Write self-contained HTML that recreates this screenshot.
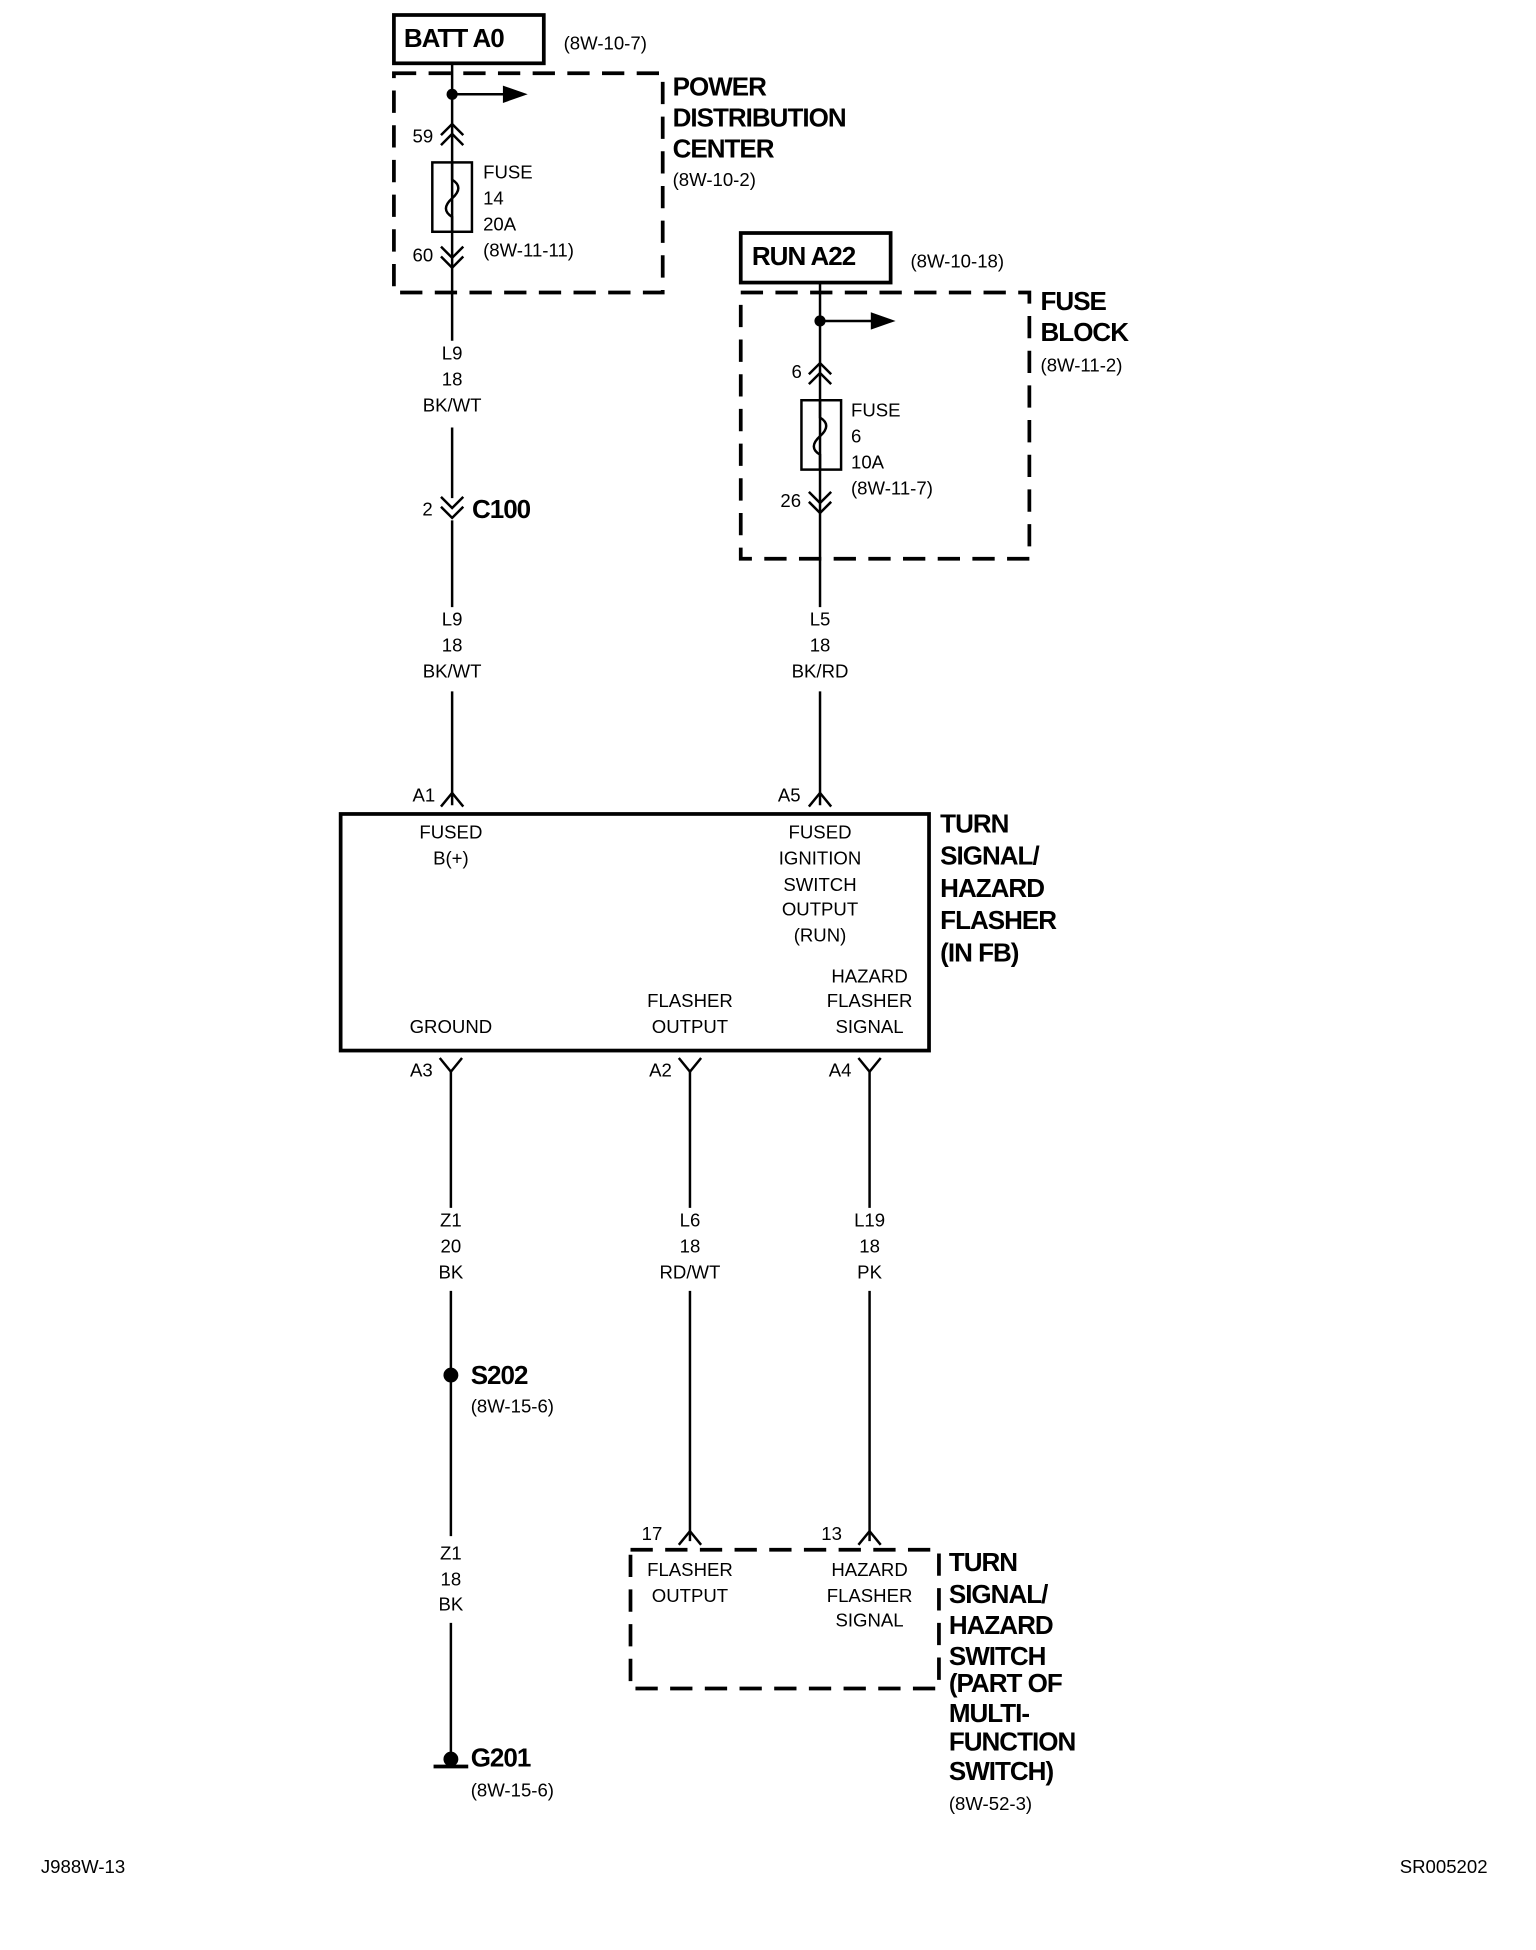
<!DOCTYPE html>
<html><head><meta charset="utf-8"><style>
html,body{margin:0;padding:0;background:#fff}
svg{display:block}
text{font-family:"Liberation Sans",sans-serif;fill:#000}
.s{font-size:15px}
.b{font-size:21px;font-weight:bold;letter-spacing:-0.8px}
.c{text-anchor:middle}
</style></head><body>
<svg width="1536" height="1950" viewBox="0 0 1240 1574" xmlns="http://www.w3.org/2000/svg">
<g stroke="#000" fill="none" stroke-width="2">
<!-- BATT -->
<rect x="318" y="12" width="121" height="39" stroke-width="3"/>
<rect x="318" y="59" width="217" height="177" stroke-width="3" stroke-dasharray="18,10"/>
<line x1="365" y1="51" x2="365" y2="275"/>
<line x1="365" y1="345" x2="365" y2="402"/>
<line x1="365" y1="420" x2="365" y2="490"/>
<line x1="365" y1="558" x2="365" y2="650"/>
<line x1="365" y1="76" x2="410" y2="76"/>
<polyline points="356,109 365,100 374,109"/><polyline points="356,117 365,108 374,117"/>
<rect x="349" y="131" width="32" height="56"/>
<path d="M365 131 V145 q10 6 0 15 q-10 9 0 15 V187" />
<polyline points="356,199 365,208 374,199"/><polyline points="356,207 365,216 374,207"/>
<polyline points="356,401 365,410 374,401"/><polyline points="356,409 365,418 374,409"/>
<!-- RUN -->
<rect x="598" y="188" width="121" height="40" stroke-width="3"/>
<rect x="598" y="236" width="233" height="215" stroke-width="3" stroke-dasharray="18,10"/>
<line x1="662" y1="228" x2="662" y2="490"/>
<line x1="662" y1="558" x2="662" y2="650"/>
<line x1="662" y1="259" x2="707" y2="259"/>
<polyline points="653,302 662,293 671,302"/><polyline points="653,310 662,301 671,310"/>
<rect x="647" y="323" width="32" height="56"/>
<path d="M662 323 V337 q10 6 0 15 q-10 9 0 15 V379" />
<polyline points="653,397 662,406 671,397"/><polyline points="653,405 662,414 671,405"/>
<!-- main box -->
<polyline points="356,651 365,640 374,651"/>
<polyline points="653,651 662,640 671,651"/>
<rect x="275" y="657" width="475" height="191" stroke-width="3"/>
<polyline points="355,854 364,865 373,854"/><line x1="364" y1="865" x2="364" y2="975"/>
<polyline points="548,854 557,865 566,854"/><line x1="557" y1="865" x2="557" y2="975"/>
<polyline points="693,854 702,865 711,854"/><line x1="702" y1="865" x2="702" y2="975"/>
<line x1="364" y1="1042" x2="364" y2="1240"/>
<line x1="364" y1="1310" x2="364" y2="1418"/>
<line x1="350" y1="1426" x2="378" y2="1426" stroke-width="3"/>
<line x1="557" y1="1042" x2="557" y2="1244"/>
<polyline points="548,1247 557,1236 566,1247"/>
<line x1="702" y1="1042" x2="702" y2="1244"/>
<polyline points="693,1247 702,1236 711,1247"/>
<rect x="509" y="1251" width="249" height="112" stroke-width="3" stroke-dasharray="18,10"/>
</g>
<g fill="#000">
<circle cx="365" cy="76" r="4.5"/><polygon points="406,69 426,76 406,83"/>
<circle cx="662" cy="259" r="4.5"/><polygon points="703,252 723,259 703,266"/>
<circle cx="364" cy="1110" r="6"/><circle cx="364" cy="1420" r="6"/>
</g>
<text class="b" x="326" y="38">BATT A0</text>
<text class="s" x="455" y="40">(8W-10-7)</text>
<text class="b" x="543" y="77">POWER</text>
<text class="b" x="543" y="102">DISTRIBUTION</text>
<text class="b" x="543" y="127">CENTER</text>
<text class="s" x="543" y="150">(8W-10-2)</text>
<text class="s" x="333" y="115">59</text>
<text class="s" x="333" y="211">60</text>
<text class="s" x="390" y="144">FUSE</text><text class="s" x="390" y="165">14</text><text class="s" x="390" y="186">20A</text><text class="s" x="390" y="207">(8W-11-11)</text>
<text class="s c" x="365" y="290">L9</text><text class="s c" x="365" y="311">18</text><text class="s c" x="365" y="332">BK/WT</text>
<text class="s" x="341" y="416">2</text><text class="b" x="381" y="418">C100</text>
<text class="s c" x="365" y="505">L9</text><text class="s c" x="365" y="526">18</text><text class="s c" x="365" y="547">BK/WT</text>
<text class="b" x="607" y="214">RUN A22</text>
<text class="s" x="735" y="216">(8W-10-18)</text>
<text class="b" x="840" y="250">FUSE</text><text class="b" x="840" y="275">BLOCK</text><text class="s" x="840" y="300">(8W-11-2)</text>
<text class="s" x="639" y="305">6</text><text class="s" x="630" y="409">26</text>
<text class="s" x="687" y="336">FUSE</text><text class="s" x="687" y="357">6</text><text class="s" x="687" y="378">10A</text><text class="s" x="687" y="399">(8W-11-7)</text>
<text class="s c" x="662" y="505">L5</text><text class="s c" x="662" y="526">18</text><text class="s c" x="662" y="547">BK/RD</text>
<text class="s" x="333" y="647">A1</text><text class="s" x="628" y="647">A5</text>
<text class="s c" x="364" y="677">FUSED</text><text class="s c" x="364" y="698">B(+)</text>
<text class="s c" x="662" y="677">FUSED</text><text class="s c" x="662" y="698">IGNITION</text><text class="s c" x="662" y="719">SWITCH</text><text class="s c" x="662" y="739">OUTPUT</text><text class="s c" x="662" y="760">(RUN)</text>
<text class="s c" x="702" y="793">HAZARD</text><text class="s c" x="702" y="813">FLASHER</text><text class="s c" x="702" y="834">SIGNAL</text>
<text class="s c" x="364" y="834">GROUND</text>
<text class="s c" x="557" y="813">FLASHER</text><text class="s c" x="557" y="834">OUTPUT</text>
<text class="b" x="759" y="672">TURN</text><text class="b" x="759" y="698">SIGNAL/</text><text class="b" x="759" y="724">HAZARD</text><text class="b" x="759" y="750">FLASHER</text><text class="b" x="759" y="776">(IN FB)</text>
<text class="s" x="331" y="869">A3</text><text class="s" x="524" y="869">A2</text><text class="s" x="669" y="869">A4</text>
<text class="s c" x="364" y="990">Z1</text><text class="s c" x="364" y="1011">20</text><text class="s c" x="364" y="1032">BK</text>
<text class="s c" x="557" y="990">L6</text><text class="s c" x="557" y="1011">18</text><text class="s c" x="557" y="1032">RD/WT</text>
<text class="s c" x="702" y="990">L19</text><text class="s c" x="702" y="1011">18</text><text class="s c" x="702" y="1032">PK</text>
<text class="b" x="380" y="1117">S202</text><text class="s" x="380" y="1140">(8W-15-6)</text>
<text class="s c" x="364" y="1259">Z1</text><text class="s c" x="364" y="1280">18</text><text class="s c" x="364" y="1300">BK</text>
<text class="b" x="380" y="1426">G201</text><text class="s" x="380" y="1450">(8W-15-6)</text>
<text class="s" x="518" y="1243">17</text><text class="s" x="663" y="1243">13</text>
<text class="s c" x="557" y="1272">FLASHER</text><text class="s c" x="557" y="1293">OUTPUT</text>
<text class="s c" x="702" y="1272">HAZARD</text><text class="s c" x="702" y="1293">FLASHER</text><text class="s c" x="702" y="1313">SIGNAL</text>
<text class="b" x="766" y="1268">TURN</text><text class="b" x="766" y="1294">SIGNAL/</text><text class="b" x="766" y="1319">HAZARD</text><text class="b" x="766" y="1344">SWITCH</text><text class="b" x="766" y="1366">(PART OF</text><text class="b" x="766" y="1390">MULTI-</text><text class="b" x="766" y="1413">FUNCTION</text><text class="b" x="766" y="1437">SWITCH)</text>
<text class="s" x="766" y="1461">(8W-52-3)</text>
<text class="s" x="33" y="1512">J988W-13</text>
<text class="s" x="1130" y="1512">SR005202</text>
</svg>
</body></html>
